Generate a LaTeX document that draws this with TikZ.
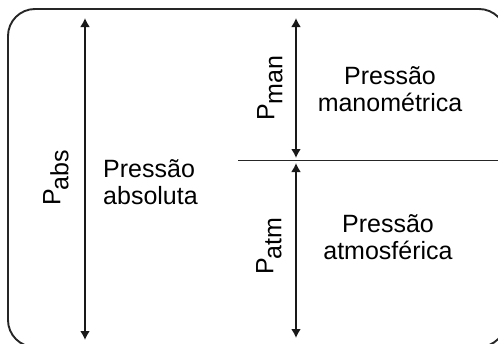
\documentclass[tikz,border=0pt]{standalone}
\usepackage{fontspec}
\setmainfont{Liberation Sans}
\usetikzlibrary{arrows.meta}
\begin{document}
\begin{tikzpicture}[x=1pt,y=-1pt,
  frame/.style={line width=1.9pt,draw=black!85,rounded corners=27pt},
  divider/.style={line width=1.9pt,draw=black!85},
  span/.style={line width=1.8pt,draw=black!90,
    {Latex[length=9pt,width=10pt]}-{Latex[length=9pt,width=10pt]}},
  lbl/.style={inner sep=0pt,font=\fontsize{25}{27}\selectfont,text=black},
  sym/.style={lbl,rotate=90}]
  \useasboundingbox (0,0) rectangle (498,343);
  \clip (0,0) rectangle (498,343);

  % outer rounded frame (runs past the right and bottom edges)
  \draw[frame] (8,9) rectangle (506,347);

  % dividing line between gauge and atmospheric parts
  \coordinate (divL) at (238,160.5);
  \coordinate (divR) at (500,160.5);
  \draw[divider] (divL) -- (divR);

  % arrow end points
  \coordinate (absT) at (85,18);
  \coordinate (absB) at (85,340);
  \coordinate (manT) at (296,18);
  \coordinate (manB) at (296,158);
  \coordinate (atmT) at (296,163);
  \coordinate (atmB) at (296,338);

  \draw[span] (absT) -- (absB);
  \draw[span] (manT) -- (manB);
  \draw[span] (atmT) -- (atmB);

  % rotated pressure symbols
  \node[sym] (pabs) at (56,178) {P\kern-1pt\raisebox{-8pt}{abs}};
  \node[sym] (pman) at (270,88) {P\kern-1pt\raisebox{-8pt}{man}};
  \node[sym] (patm) at (269,246) {P\kern-1pt\raisebox{-8pt}{atm}};

  % descriptions
  \node[lbl,align=left,anchor=west] (tabs) at (103,182) {Pressão\\absoluta};
  \node[lbl,align=center] (tman) at (390,89) {Pressão\\manométrica};
  \node[lbl,align=center] (tatm) at (388,237.5) {Pressão\\atmosférica};
\end{tikzpicture}
\end{document}
